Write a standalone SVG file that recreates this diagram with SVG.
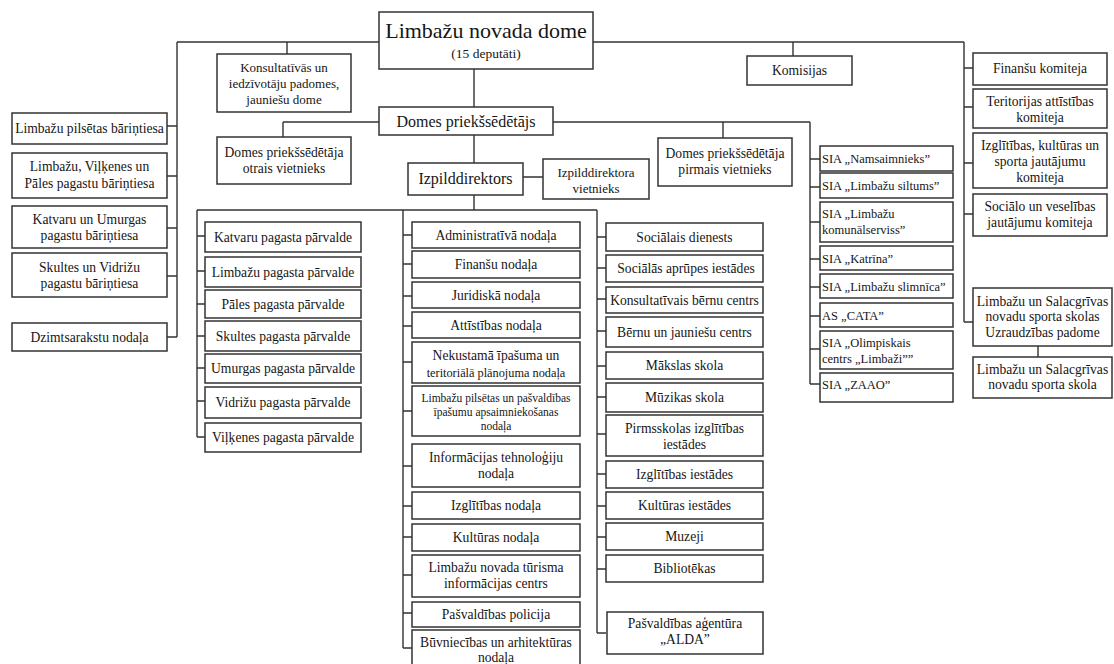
<svg xmlns="http://www.w3.org/2000/svg" width="1114" height="664" viewBox="0 0 1114 664">
<style>
.b{fill:#fff;stroke:#333;stroke-width:1.5}
.c{fill:none;stroke:#333;stroke-width:1.4}
text{font-family:"Liberation Serif","Times New Roman",serif;font-size:13.6px;fill:#161616;text-anchor:middle}
.s{text-anchor:start;font-size:12.5px}
.sm{font-size:11.5px}
.t{font-size:13px}
</style>
<rect width="1114" height="664" fill="#fff"/>
<g id="connectors" class="c">
<path d="M177 42H379M593 42H964M287 42V54M793 42V56"/>
<path d="M177 42V337M167 126H177M167 176H177M167 228H177M167 276H177M167 337H177"/>
<path d="M964 42V322M964 68H973M964 107H973M964 163H973M964 214H973M964 322H973M1038 346V357"/>
<path d="M474 69V107M283 122H379M283 122V137M553 122H810M723 122V138"/>
<path d="M810 122V384M810 159H820M810 187H820M810 222H820M810 259H820M810 287H820M810 316H820M810 349H820M810 384H820"/>
<path d="M474 135V163M523 177H543M474 195V210M197 210H597"/>
<path d="M197 210V437M197 236H205M197 271H205M197 304H205M197 336H205M197 368H205M197 401H205M197 437H205"/>
<path d="M403 210V648M403 235H412M403 264H412M403 296H412M403 326H412M403 362H412M403 411H412M403 466H412M403 506H412M403 537H412M403 575H412M403 613H412M403 648H412"/>
<path d="M597 210V633M597 237H606M597 268H606M597 299H606M597 331H606M597 366H606M597 397H606M597 434H606M597 474H606M597 506H606M597 537H606M597 569H606M597 633H606"/>
</g>
<g id="dome"><rect class="b" x="379" y="12" width="214" height="57"/><text x="486" y="38" style="font-size:22px">Limbažu novada dome</text><text x="486" y="58" style="font-size:13.5px">(15 deputāti)</text></g>
<g id="konsultativas"><rect class="b" x="217" y="54" width="134" height="58"/><text class="t" x="284" y="72">Konsultatīvās un</text><text class="t" x="284" y="88">iedzīvotāju padomes,</text><text class="t" x="284" y="104">jauniešu dome</text></g>
<g id="komisijas"><rect class="b" x="747" y="56" width="105" height="29"/><text x="799.5" y="75">Komisijas</text></g>
<g id="priekssedetajs"><rect class="b" x="379" y="107" width="174" height="28"/><text x="466" y="127" style="font-size:16px">Domes priekšsēdētājs</text></g>
<g id="otrais"><rect class="b" x="217" y="137" width="134" height="47"/><text x="284" y="157">Domes priekšsēdētāja</text><text x="284" y="173">otrais vietnieks</text></g>
<g id="pirmais"><rect class="b" x="658" y="138" width="134" height="48"/><text x="725" y="158">Domes priekšsēdētāja</text><text x="725" y="174">pirmais  vietnieks</text></g>
<g id="izpilddirektors"><rect class="b" x="408" y="163" width="115" height="32"/><text x="465.5" y="184" style="font-size:16px">Izpilddirektors</text></g>
<g id="izpvietnieks"><rect class="b" x="543" y="159" width="106" height="40"/><text class="t" x="596" y="177">Izpilddirektora</text><text class="t" x="596" y="193">vietnieks</text></g>
<g id="bt1"><rect class="b" x="12" y="113" width="155" height="31"/><text x="89.5" y="133">Limbažu pilsētas bāriņtiesa</text></g>
<g id="bt2"><rect class="b" x="12" y="153" width="155" height="45"/><text x="89.5" y="171">Limbažu, Viļķenes un</text><text x="89.5" y="188">Pāles pagastu bāriņtiesa</text></g>
<g id="bt3"><rect class="b" x="12" y="206" width="155" height="42"/><text x="89.5" y="224">Katvaru un Umurgas</text><text x="89.5" y="240">pagastu bāriņtiesa</text></g>
<g id="bt4"><rect class="b" x="12" y="253" width="155" height="44"/><text x="89.5" y="272">Skultes un Vidrižu</text><text x="89.5" y="288">pagastu bāriņtiesa</text></g>
<g id="dzimts"><rect class="b" x="12" y="323" width="155" height="28"/><text x="89.5" y="342">Dzimtsarakstu nodaļa</text></g>
<g id="kom1"><rect class="b" x="973" y="53" width="134" height="32"/><text x="1040" y="73">Finanšu komiteja</text></g>
<g id="kom2"><rect class="b" x="973" y="89" width="134" height="39"/><text x="1040" y="106">Teritorijas attīstības</text><text x="1040" y="122">komiteja</text></g>
<g id="kom3"><rect class="b" x="973" y="133" width="134" height="55"/><text x="1040" y="150">Izglītības, kultūras un</text><text x="1040" y="166">sporta jautājumu</text><text x="1040" y="182">komiteja</text></g>
<g id="kom4"><rect class="b" x="973" y="194" width="134" height="42"/><text x="1040" y="211">Sociālo un veselības</text><text x="1040" y="227">jautājumu komiteja</text></g>
<g id="padome"><rect class="b" x="973" y="288" width="139" height="58"/><text x="1042.5" y="306">Limbažu un Salacgrīvas</text><text x="1042.5" y="321">novadu sporta skolas</text><text x="1042.5" y="337">Uzraudzības padome</text></g>
<g id="sportaskola"><rect class="b" x="973" y="357" width="139" height="41"/><text x="1042.5" y="374">Limbažu un Salacgrīvas</text><text x="1042.5" y="389">novadu sporta skola</text></g>
<g id="sia1"><rect class="b" x="820" y="146" width="133" height="25"/><text class="s" x="822" y="163">SIA „Namsaimnieks”</text></g>
<g id="sia2"><rect class="b" x="820" y="173" width="133" height="25"/><text class="s" x="822" y="190">SIA „Limbažu siltums”</text></g>
<g id="sia3"><rect class="b" x="820" y="202" width="133" height="40"/><text class="s" x="822" y="218">SIA „Limbažu</text><text class="s" x="822" y="234">komunālserviss”</text></g>
<g id="sia4"><rect class="b" x="820" y="246" width="133" height="24"/><text class="s" x="822" y="263">SIA „Katrīna”</text></g>
<g id="sia5"><rect class="b" x="820" y="274" width="133" height="24"/><text class="s" x="822" y="291">SIA „Limbažu slimnīca”</text></g>
<g id="sia6"><rect class="b" x="820" y="303" width="133" height="24"/><text class="s" x="822" y="320">AS „CATA”</text></g>
<g id="sia7"><rect class="b" x="820" y="331" width="133" height="38"/><text class="s" x="822" y="347">SIA „Olimpiskais</text><text class="s" x="822" y="363">centrs „Limbaži””</text></g>
<g id="sia8"><rect class="b" x="820" y="373" width="133" height="29"/><text class="s" x="822" y="389">SIA „ZAAO”</text></g>
<g id="p1"><rect class="b" x="205" y="222" width="156" height="30"/><text x="283" y="241.5">Katvaru pagasta pārvalde</text></g>
<g id="p2"><rect class="b" x="205" y="257" width="156" height="30"/><text x="283" y="276.5">Limbažu pagasta pārvalde</text></g>
<g id="p3"><rect class="b" x="205" y="290" width="156" height="28"/><text x="283" y="308.5">Pāles pagasta pārvalde</text></g>
<g id="p4"><rect class="b" x="205" y="321" width="156" height="30"/><text x="283" y="340.5">Skultes pagasta pārvalde</text></g>
<g id="p5"><rect class="b" x="205" y="354" width="156" height="29"/><text x="283" y="373">Umurgas pagasta pārvalde</text></g>
<g id="p6"><rect class="b" x="205" y="387" width="156" height="31"/><text x="283" y="407">Vidrižu pagasta pārvalde</text></g>
<g id="p7"><rect class="b" x="205" y="423" width="156" height="29"/><text x="283" y="442">Viļķenes pagasta pārvalde</text></g>
<g id="n1"><rect class="b" x="412" y="222" width="168" height="26"/><text x="496" y="239.5">Administratīvā nodaļa</text></g>
<g id="n2"><rect class="b" x="412" y="251" width="168" height="27"/><text x="496" y="269">Finanšu nodaļa</text></g>
<g id="n3"><rect class="b" x="412" y="282" width="168" height="26"/><text x="496" y="299.5">Juridiskā nodaļa</text></g>
<g id="n4"><rect class="b" x="412" y="312" width="168" height="26"/><text x="496" y="329.5">Attīstības nodaļa</text></g>
<g id="n5"><rect class="b" x="412" y="342" width="168" height="41"/><text x="496" y="360">Nekustamā īpašuma un</text><text x="496" y="377" style="font-size:12.3px">teritoriālā plānojuma nodaļa</text></g>
<g id="n6"><rect class="b" x="412" y="386" width="168" height="50"/><text class="sm" x="496" y="402">Limbažu pilsētas un pašvaldības</text><text class="sm" x="496" y="416">īpašumu apsaimniekošanas</text><text class="sm" x="496" y="430">nodaļa</text></g>
<g id="n7"><rect class="b" x="412" y="444" width="168" height="43"/><text x="496" y="462">Informācijas tehnoloģiju</text><text x="496" y="478">nodaļa</text></g>
<g id="n8"><rect class="b" x="412" y="492" width="168" height="27"/><text x="496" y="510">Izglītības nodaļa</text></g>
<g id="n9"><rect class="b" x="412" y="524" width="168" height="27"/><text x="496" y="542">Kultūras nodaļa</text></g>
<g id="n10"><rect class="b" x="412" y="555" width="168" height="42"/><text x="496" y="572">Limbažu novada tūrisma</text><text x="496" y="588">informācijas centrs</text></g>
<g id="n11"><rect class="b" x="412" y="602" width="168" height="25"/><text x="496" y="619">Pašvaldības policija</text></g>
<g id="n12"><rect class="b" x="412" y="630" width="168" height="38"/><text x="496" y="647">Būvniecības un arhitektūras</text><text x="496" y="662">nodaļa</text></g>
<g id="r1"><rect class="b" x="606" y="223" width="157" height="28"/><text x="684.5" y="241.5">Sociālais dienests</text></g>
<g id="r2"><rect class="b" x="606" y="255" width="157" height="27"/><text x="686" y="273">Sociālās aprūpes iestādes</text></g>
<g id="r3"><rect class="b" x="606" y="287" width="157" height="26"/><text x="684.5" y="304.5">Konsultatīvais bērnu centrs</text></g>
<g id="r4"><rect class="b" x="606" y="317" width="157" height="30"/><text x="684.5" y="336.5">Bērnu un jauniešu centrs</text></g>
<g id="r5"><rect class="b" x="606" y="352" width="157" height="27"/><text x="684.5" y="370">Mākslas skola</text></g>
<g id="r6"><rect class="b" x="606" y="383" width="157" height="29"/><text x="684.5" y="402">Mūzikas skola</text></g>
<g id="r7"><rect class="b" x="606" y="415" width="157" height="41"/><text x="684.5" y="433">Pirmsskolas izglītības</text><text x="684.5" y="449">iestādes</text></g>
<g id="r8"><rect class="b" x="606" y="461" width="157" height="27"/><text x="684.5" y="479">Izglītības iestādes</text></g>
<g id="r9"><rect class="b" x="606" y="492" width="157" height="27"/><text x="684.5" y="510">Kultūras iestādes</text></g>
<g id="r10"><rect class="b" x="606" y="523" width="157" height="27"/><text x="684.5" y="541">Muzeji</text></g>
<g id="r11"><rect class="b" x="606" y="555" width="157" height="27"/><text x="684.5" y="573">Bibliotēkas</text></g>
<g id="r12"><rect class="b" x="607" y="612" width="156" height="42"/><text x="685" y="628">Pašvaldības aģentūra</text><text x="685" y="644">„ALDA”</text></g>
</svg>
